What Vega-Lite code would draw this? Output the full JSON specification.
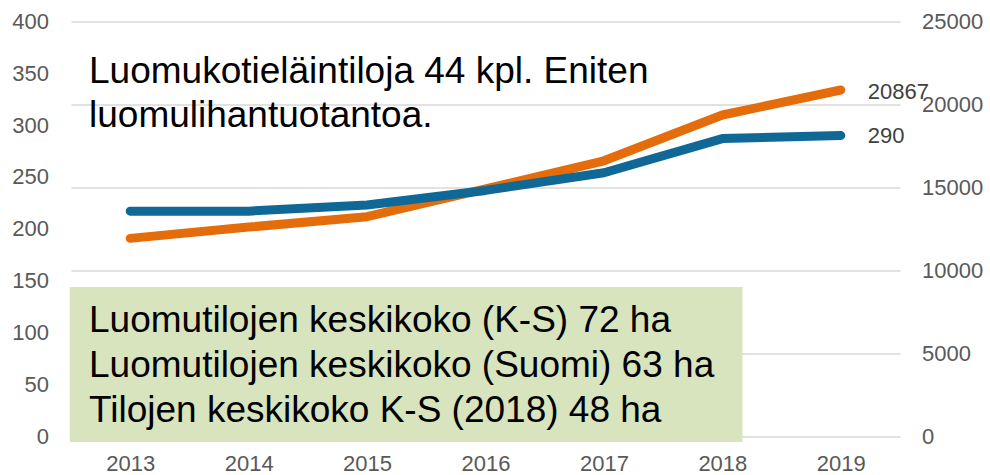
{
  "$schema": "https://vega.github.io/schema/vega-lite/v6.json",
  "width": 829,
  "height": 414.5,
  "autosize": {"type": "none"},
  "padding": {"left": 71, "top": 21.5, "right": 90, "bottom": 39},
  "background": "white",
  "config": {
    "view": {"stroke": null},
    "font": "Liberation Sans",
    "axis": {
      "domain": false,
      "ticks": false,
      "grid": false,
      "title": null,
      "labelFont": "Liberation Sans",
      "labelFontSize": 22,
      "labelColor": "#595959",
      "labelFlush": false,
      "labelOverlap": false
    }
  },
  "datasets": {
    "sarjat": [
      {"vuosi": 2013, "tilat": 217, "hehtaarit": 11920},
      {"vuosi": 2014, "tilat": 217, "hehtaarit": 12600},
      {"vuosi": 2015, "tilat": 223, "hehtaarit": 13230},
      {"vuosi": 2016, "tilat": 237, "hehtaarit": 14900},
      {"vuosi": 2017, "tilat": 254, "hehtaarit": 16600},
      {"vuosi": 2018, "tilat": 287, "hehtaarit": 19360},
      {"vuosi": 2019, "tilat": 290, "hehtaarit": 20867}
    ],
    "otsikko": [
      {"teksti": "Luomukotieläintiloja 44 kpl. Eniten\nluomulihantuotantoa."}
    ],
    "laatikko": [
      {"teksti": "Luomutilojen keskikoko (K-S) 72 ha\nLuomutilojen keskikoko (Suomi) 63 ha\nTilojen keskikoko K-S (2018) 48 ha"}
    ]
  },
  "layer": [
    {
      "data": {"name": "sarjat"},
      "encoding": {
        "x": {
          "field": "vuosi",
          "type": "quantitative",
          "scale": {"domain": [2012.5, 2019.5], "nice": false, "zero": false},
          "axis": {"values": [2013, 2014, 2015, 2016, 2017, 2018, 2019], "format": "d", "labelPadding": 17}
        },
        "y": {
          "field": "hehtaarit",
          "type": "quantitative",
          "scale": {"domain": [0, 25000], "nice": false, "zero": true},
          "axis": {
            "orient": "right",
            "values": [0, 5000, 10000, 15000, 20000, 25000],
            "format": "d",
            "labelPadding": 21.5,
            "grid": true,
            "gridColor": "#d9d9d9",
            "gridWidth": 1.5
          }
        }
      },
      "layer": [
        {
          "mark": {"type": "line", "color": "#e46c0a", "strokeWidth": 9, "strokeCap": "round", "strokeJoin": "round"}
        },
        {
          "transform": [{"filter": "datum.vuosi == 2019"}],
          "mark": {"type": "text", "align": "left", "baseline": "middle", "dx": 27, "dy": 2, "fontSize": 22, "color": "#404040", "font": "Liberation Sans"},
          "encoding": {"text": {"field": "hehtaarit", "type": "quantitative", "format": "d"}}
        }
      ]
    },
    {
      "data": {"name": "laatikko"},
      "mark": {"type": "rect", "color": "#d7e4bd", "clip": false},
      "encoding": {
        "x": {"datum": 2012.49, "type": "quantitative"},
        "x2": {"datum": 2018.17},
        "y": {"datum": 143.8, "type": "quantitative", "scale": {"domain": [0, 400], "nice": false, "zero": true}, "axis": null},
        "y2": {"datum": -5.8}
      }
    },
    {
      "data": {"name": "laatikko"},
      "mark": {"type": "text", "align": "left", "baseline": "alphabetic", "fontSize": 37, "lineHeight": 45, "lineBreak": "\n", "color": "#000000", "font": "Liberation Sans"},
      "encoding": {
        "x": {"datum": 2012.652, "type": "quantitative"},
        "y": {"datum": 100, "type": "quantitative", "scale": {"domain": [0, 400], "nice": false, "zero": true}, "axis": null},
        "text": {"field": "teksti", "type": "nominal"}
      }
    },
    {
      "data": {"name": "otsikko"},
      "mark": {"type": "text", "align": "left", "baseline": "alphabetic", "fontSize": 37, "lineHeight": 44, "lineBreak": "\n", "color": "#000000", "font": "Liberation Sans"},
      "encoding": {
        "x": {"datum": 2012.652, "type": "quantitative"},
        "y": {"datum": 340.4, "type": "quantitative", "scale": {"domain": [0, 400], "nice": false, "zero": true}, "axis": null},
        "text": {"field": "teksti", "type": "nominal"}
      }
    },
    {
      "data": {"name": "sarjat"},
      "encoding": {
        "x": {"field": "vuosi", "type": "quantitative"},
        "y": {
          "field": "tilat",
          "type": "quantitative",
          "scale": {"domain": [0, 400], "nice": false, "zero": true},
          "axis": {
            "orient": "left",
            "values": [0, 50, 100, 150, 200, 250, 300, 350, 400],
            "labelPadding": 22.5
          }
        }
      },
      "layer": [
        {
          "mark": {"type": "line", "color": "#0f6896", "strokeWidth": 9, "strokeCap": "round", "strokeJoin": "round"}
        },
        {
          "transform": [{"filter": "datum.vuosi == 2019"}],
          "mark": {"type": "text", "align": "left", "baseline": "middle", "dx": 27, "dy": 1, "fontSize": 22, "color": "#404040", "font": "Liberation Sans"},
          "encoding": {"text": {"field": "tilat", "type": "quantitative", "format": "d"}}
        }
      ]
    }
  ],
  "resolve": {"scale": {"y": "independent"}, "axis": {"y": "independent"}}
}
